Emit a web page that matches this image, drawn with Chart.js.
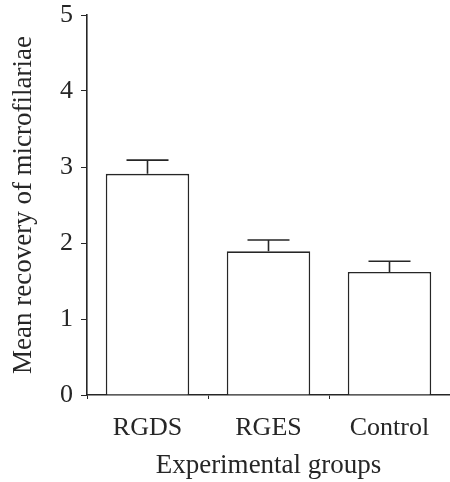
<!DOCTYPE html>
<html>
<head>
<meta charset="utf-8">
<script src="https://cdn.jsdelivr.net/npm/chart.js@4"></script>
<style>
  body { margin: 0; background: #fff; }
</style>
</head>
<body>
<canvas id="myChart" width="450" height="482"></canvas>
<script>
// Datas
const groups = ["RGDS", "RGES", "Control"];
const meanRecovery = [2.91, 1.89, 1.62];
const errors = [0.18, 0.15, 0.14];
const yTicks = [0, 1, 2, 3, 4, 5];

const ink = '#262626';
const serif = '"Liberation Serif", "Times New Roman", serif';

// error bars drawn over the bars
const errorBars = {
    id: 'errorBars',
    afterDatasetsDraw(chart) {
        const ctx = chart.ctx;
        const x = chart.scales.x;
        const y = chart.scales.y;
        ctx.save();
        ctx.strokeStyle = ink;
        ctx.lineWidth = 1.6;
        meanRecovery.forEach((v, i) => {
            const cx = x.getPixelForValue(i);
            const y0 = y.getPixelForValue(v);
            const y1 = y.getPixelForValue(v + errors[i]);
            ctx.beginPath();
            ctx.moveTo(cx, y0);
            ctx.lineTo(cx, y1);
            ctx.moveTo(cx - 21, y1);
            ctx.lineTo(cx + 21, y1);
            ctx.stroke();
        });
        ctx.restore();
    }
};

// the chart
const myChart = new Chart('myChart', {
    type: 'bar',
    data: {
        labels: groups,
        datasets: [{
            data: meanRecovery,
            backgroundColor: '#ffffff',
            borderColor: ink,
            borderWidth: 1.6,
            barPercentage: 0.69,
            categoryPercentage: 1
        }]
    },
    options: {
        responsive: false,
        animation: false,
        layout: { padding: { top: 15, right: 0, left: 0, bottom: 0 } },
        plugins: { legend: { display: false }, tooltip: { enabled: false } },
        scales: {
            x: {
                afterFit(scale) { scale.height = 87; scale.paddingLeft = 0; scale.paddingRight = 0; },
                border: { display: true, color: ink, width: 1.6 },
                grid: { drawOnChartArea: false, drawTicks: true, tickLength: 4, color: ink, offset: true },
                ticks: { color: ink, font: { family: serif, size: 26 }, padding: 14 },
                title: {
                    display: true,
                    text: 'Experimental groups',
                    color: ink,
                    font: { family: serif, size: 27 },
                    padding: { top: 0, bottom: 0 }
                }
            },
            y: {
                min: 0,
                max: 5,
                afterFit(scale) { scale.width = 87; scale.paddingTop = 0; scale.paddingBottom = 0; },
                afterBuildTicks(scale) { scale.ticks = yTicks.map(v => ({ value: v })); },
                border: { display: true, color: ink, width: 1.6 },
                grid: { drawOnChartArea: false, drawTicks: true, tickLength: 6, color: ink },
                ticks: { color: ink, font: { family: serif, size: 26 }, padding: 8 },
                title: {
                    display: true,
                    text: 'Mean recovery of microfilariae',
                    color: ink,
                    font: { family: serif, size: 27 },
                    padding: { top: 8, bottom: 0 }
                }
            }
        }
    },
    plugins: [errorBars]
});
</script>
</body>
</html>
